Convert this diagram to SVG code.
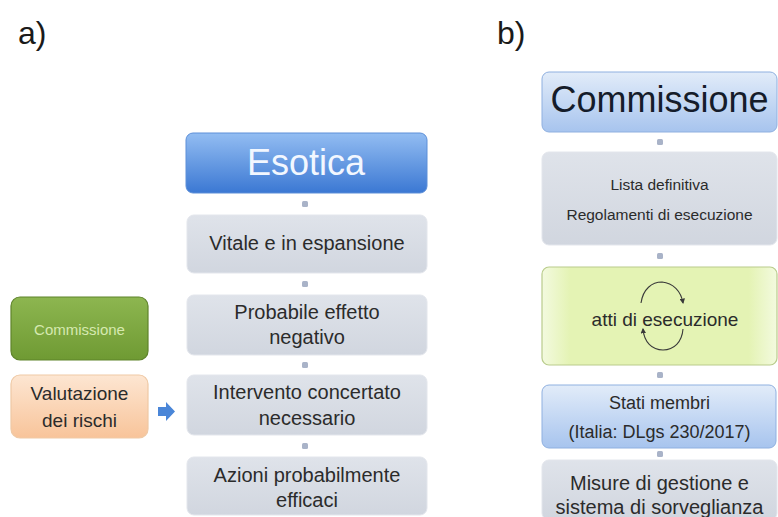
<svg xmlns="http://www.w3.org/2000/svg" width="778" height="517" viewBox="0 0 778 517">
<style>
.t{font-family:"Liberation Sans",Arial,sans-serif;text-anchor:middle;fill:#2b2b2b}
.lbl{font-family:"Liberation Sans",Arial,sans-serif;font-size:32px;fill:#1a1a1a}
.gray{fill:url(#gGray);stroke:#e3e6ec;stroke-width:1}
.dot{fill:#a9b3c8}
.loop{fill:none;stroke:#3a3a3a;stroke-width:1.1}
</style>
<defs>
<linearGradient id="gBlue" x1="0" y1="0" x2="0" y2="1"><stop offset="0" stop-color="#93bdf2"/><stop offset="1" stop-color="#3b78d3"/></linearGradient>
<linearGradient id="gLBlue" x1="0" y1="0" x2="0" y2="1"><stop offset="0" stop-color="#e2ecf9"/><stop offset="1" stop-color="#a7c4ee"/></linearGradient>
<linearGradient id="gGray" x1="0" y1="0" x2="0" y2="1"><stop offset="0" stop-color="#dfe3ea"/><stop offset="1" stop-color="#d1d6df"/></linearGradient>
<linearGradient id="gGreen" x1="0" y1="0" x2="0" y2="1"><stop offset="0" stop-color="#8db650"/><stop offset="1" stop-color="#6f9a33"/></linearGradient>
<linearGradient id="gOrange" x1="0" y1="0" x2="0" y2="1"><stop offset="0" stop-color="#fde6d2"/><stop offset="1" stop-color="#f8c49a"/></linearGradient>
<linearGradient id="gLime" x1="0" y1="0" x2="1" y2="0"><stop offset="0" stop-color="#f3fadf"/><stop offset="0.12" stop-color="#e4f3b4"/><stop offset="0.88" stop-color="#e4f3b4"/><stop offset="1" stop-color="#f3fadf"/></linearGradient>
<marker id="ah" viewBox="0 0 10 10" refX="8" refY="5" markerWidth="5" markerHeight="5" orient="auto"><path d="M0,0 L10,5 L0,10 z" fill="#3a3a3a"/></marker>
</defs>
<rect width="778" height="517" fill="#ffffff"/>

<text class="lbl" x="18" y="44">a)</text>
<text class="lbl" x="497" y="44">b)</text>

<g id="connectors">
<rect class="dot" x="302" y="201" width="6" height="6" rx="1.5"/>
<rect class="dot" x="302" y="281" width="6" height="6" rx="1.5"/>
<rect class="dot" x="302" y="362" width="6" height="6" rx="1.5"/>
<rect class="dot" x="302" y="443" width="6" height="6" rx="1.5"/>
<rect class="dot" x="657" y="139" width="6" height="6" rx="1.5"/>
<rect class="dot" x="657" y="253" width="6" height="6" rx="1.5"/>
<rect class="dot" x="657" y="372" width="6" height="6" rx="1.5"/>
<rect class="dot" x="657" y="451" width="6" height="6" rx="1.5"/>
<path d="M158,407 H166 V402 L175,411.5 L166,421 V416 H158 Z" fill="#4a86d8"/>
</g>

<g id="esotica">
<rect x="186" y="133" width="241" height="60" rx="7" fill="url(#gBlue)" stroke="#5d8fd8" stroke-width="1"/>
<text class="t" x="306" y="175" font-size="36" style="fill:#f2f7ff">Esotica</text>
</g>
<g id="vitale">
<rect class="gray" x="187" y="215" width="240" height="58" rx="7"/>
<text class="t" x="307" y="250" font-size="20">Vitale e in espansione</text>
</g>
<g id="probabile">
<rect class="gray" x="187" y="295" width="240" height="60" rx="7"/>
<text class="t" x="307" y="319" font-size="20">Probabile effetto</text>
<text class="t" x="307" y="344" font-size="20">negativo</text>
</g>
<g id="intervento">
<rect class="gray" x="187" y="375" width="240" height="60" rx="7"/>
<text class="t" x="307" y="399" font-size="20">Intervento concertato</text>
<text class="t" x="307" y="425" font-size="20">necessario</text>
</g>
<g id="azioni">
<rect class="gray" x="187" y="457" width="240" height="58" rx="7"/>
<text class="t" x="307" y="482" font-size="20">Azioni probabilmente</text>
<text class="t" x="307" y="507" font-size="20">efficaci</text>
</g>

<g id="commissione-a">
<rect x="11" y="297" width="137" height="63" rx="9" fill="url(#gGreen)" stroke="#5f842b" stroke-width="1.2"/>
<text class="t" x="79.5" y="335" font-size="15" style="fill:#d6e9b0">Commissione</text>
</g>
<g id="valutazione">
<rect x="11" y="375" width="137" height="63" rx="9" fill="url(#gOrange)" stroke="#efc9a5" stroke-width="1.2"/>
<text class="t" x="79.5" y="400" font-size="19">Valutazione</text>
<text class="t" x="79.5" y="427" font-size="19">dei rischi</text>
</g>

<g id="commissione-b">
<rect x="542" y="72" width="235" height="60" rx="7" fill="url(#gLBlue)" stroke="#8fb0e0" stroke-width="1"/>
<text class="t" x="659.5" y="112" font-size="36" style="fill:#151c2a">Commissione</text>
</g>
<g id="lista">
<rect class="gray" x="542" y="152" width="235" height="93" rx="7"/>
<text class="t" x="659.5" y="190" font-size="15.5">Lista definitiva</text>
<text class="t" x="659.5" y="220" font-size="15.5">Regolamenti di esecuzione</text>
</g>
<g id="atti">
<rect x="542" y="267" width="235" height="98" rx="7" fill="url(#gLime)" stroke="#b9cc8c" stroke-width="1.2"/>
<path class="loop" d="M641,303 C643,289 652,282 662,282 C673,283 681,291 683,303" marker-end="url(#ah)"/>
<path class="loop" d="M683,329 C682,342 674,350 663,350 C652,350 644,342 643,329" marker-end="url(#ah)"/>
<text class="t" x="665" y="326" font-size="19">atti di esecuzione</text>
</g>
<g id="stati">
<rect x="542" y="385" width="234" height="63" rx="7" fill="url(#gLBlue)" stroke="#8fb0e0" stroke-width="1"/>
<text class="t" x="659.5" y="409" font-size="18">Stati membri</text>
<text class="t" x="659.5" y="438" font-size="18">(Italia: DLgs 230/2017)</text>
</g>
<g id="misure">
<rect class="gray" x="542" y="460" width="235" height="60" rx="7"/>
<text class="t" x="659.5" y="490" font-size="20">Misure di gestione e</text>
<text class="t" x="659.5" y="514" font-size="20">sistema di sorveglianza</text>
</g>
</svg>
